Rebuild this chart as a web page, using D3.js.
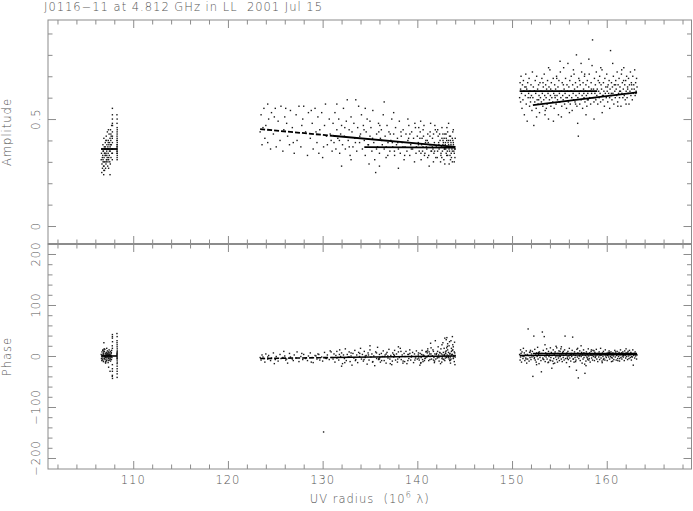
<!DOCTYPE html>
<html><head><meta charset="utf-8">
<script src="https://cdn.jsdelivr.net/npm/d3@7"></script>
<style>
body{margin:0;background:#fff}
svg{display:block}
text{font-family:"DejaVu Sans",sans-serif;font-weight:200;fill:#555;letter-spacing:1px;white-space:pre}
</style>
</head><body>
<svg id="c" width="693" height="511"></svg>
<script>
const title = "J0116−11 at 4.812 GHz in LL  2001 Jul 15";
const xLabel = "UV radius";
const ampLabel = "Amplitude";
const phaseLabel = "Phase";
const xTicks = [110,120,130,140,150,160];
const ampTicks = [0,0.5];
const phaseTicks = [-200,-100,0,100,200];

// visibilities: [uv radius (10^6 lambda), amplitude, phase (deg)]
const visLeft = [
[106.62,.31,3],[106.65,.34,-5],[106.7,.29,8],[106.72,.36,-2],[106.75,.27,1],[106.78,.33,11],[106.8,.38,-8],[106.82,.30,4],[106.85,.35,-11],[106.87,.28,6],
[106.9,.41,0],[106.92,.32,-4],[106.95,.37,9],[106.97,.26,-1],[107.0,.34,13],[107.02,.30,-7],[107.05,.39,2],[107.07,.33,-12],[107.1,.36,5],[107.12,.29,-3],
[107.15,.42,7],[107.17,.31,-9],[107.2,.35,15],[107.22,.38,-6],[107.25,.32,1],[107.27,.44,10],[107.3,.28,-2],[107.32,.37,4],[107.35,.34,-13],[107.37,.40,8],
[107.4,.31,-5],[107.42,.36,3],[107.45,.43,12],[107.47,.33,-8],[107.5,.39,0],[107.52,.30,6],[107.55,.41,-4],[107.57,.35,9],[107.6,.45,-10],[107.62,.38,2],
[107.65,.32,-1],[107.67,.42,5],[107.7,.36,-7],[107.72,.47,11],[107.75,.34,-3],[106.68,.25,-9],[106.88,.24,4],[107.08,.27,-14],[106.93,.30,14],[107.18,.40,-2],
[107.38,.45,6],[107.58,.29,-6],[106.83,.35,2],[107.03,.33,-1],[107.23,.31,3],[107.43,.38,-3],[107.63,.40,1],[106.98,.36,0],[107.13,.34,1],[107.33,.30,-1],
[106.9,.26,26],[107.4,.27,-22],[107.55,.24,-30],
[107.8,.55,42],[107.8,.50,35],[107.81,.47,28],[107.8,.44,-38],[107.79,.41,20],[107.8,.39,-25],[107.81,.36,-44],[107.8,.48,15],[107.8,.34,-17],[107.8,.52,-30],
[107.8,.42,38],[107.79,.31,-40],
[108.28,.52,44],[108.3,.50,-5],[108.29,.48,30],[108.3,.46,-15],[108.31,.45,8],[108.3,.43,-30],[108.29,.42,2],[108.3,.41,22],[108.3,.40,-8],[108.31,.39,14],
[108.3,.38,-2],[108.29,.37,5],[108.3,.37,-20],[108.3,.36,0],[108.31,.36,10],[108.3,.35,-4],[108.29,.35,3],[108.3,.34,-42],[108.3,.34,18],[108.31,.33,-12],
[108.3,.32,38],[108.3,.38,-35],[108.29,.40,26],[108.3,.44,-25],[108.3,.31,6]
];
const visLeft2 = [
[106.74,.32,-6],[106.91,.28,9],[107.06,.37,-3],[107.21,.33,6],[107.36,.39,-9],[107.49,.35,3],[107.64,.43,-2],[106.81,.31,12],[107.11,.40,-11],[107.41,.32,1],
[107.69,.38,7],[106.96,.34,-5],[107.26,.36,4],[107.56,.37,-1],[107.16,.30,2]
];
const visMid = [
[123.4,.44,-3],[123.5,.52,-8],[123.6,.38,2],[123.8,.55,-5],[123.9,.41,-12],[124.0,.47,4],[124.2,.57,-6],[124.2,.39,-2],[124.3,.50,1],[124.5,.36,-9],
[124.6,.53,-4],[124.8,.43,6],[125.0,.55,-7],[125.1,.37,-1],[125.3,.49,-10],[125.5,.40,3],[125.6,.56,-5],[125.8,.35,-3],[126.0,.51,0],[126.1,.55,-8],
[126.3,.42,-14],[126.5,.38,5],[126.6,.54,-2],[126.8,.46,-6],[127.0,.34,2],[127.2,.52,-4],[127.3,.40,8],[127.5,.56,-11],[127.7,.37,-1],[127.9,.50,-7],
[128.0,.56,3],[128.2,.44,-5],[128.4,.33,-9],[128.5,.53,0],[128.7,.41,6],[128.9,.48,-3],[129.0,.36,-13],[129.2,.55,1],[129.4,.39,-6],[129.5,.51,4],
[129.7,.45,-8],[129.9,.53,-2],[130.0,.32,-10],[130.2,.47,7],[130.3,.57,-4],[130.5,.38,2],[130.7,.50,-7],[130.8,.43,10],[131.0,.35,-3],[124.9,.51,-15],
[125.9,.45,9],[126.9,.39,-9],[127.8,.47,5],[128.8,.54,-12],[129.6,.34,3],[130.4,.42,-5],[123.7,.46,-2],[126.2,.48,-6],[129.3,.44,0],[130.9,.40,8],
[130.1,.37,-149],
[131.1,.48,-6],[131.2,.39,4],[131.3,.53,-12],[131.4,.36,1],[131.5,.45,9],[131.6,.41,-3],[131.7,.50,-8],[131.8,.34,12],[131.9,.43,-1],[132.0,.47,6],
[132.1,.38,-15],[132.2,.55,2],[132.3,.42,-5],[132.4,.36,14],[132.5,.49,-9],[132.6,.59,3],[132.7,.40,-2],[132.8,.45,8],[132.9,.33,-11],[133.0,.51,0],
[133.1,.44,-18],[133.2,.37,5],[133.3,.48,-4],[133.4,.41,11],[133.5,.59,-7],[133.6,.35,2],[133.7,.46,-13],[133.8,.56,7],[133.9,.39,-1],[134.0,.43,15],
[134.1,.52,-6],[134.2,.36,3],[134.3,.47,-10],[134.4,.40,9],[134.5,.33,-3],[134.6,.44,1],[134.7,.50,-16],[134.8,.38,6],[134.9,.29,-8],[135.0,.42,12],
[135.1,.46,-2],[135.2,.35,4],[135.3,.54,-11],[135.4,.39,0],[135.5,.31,-19],[135.6,.25,8],[135.7,.43,-5],[135.8,.37,17],[135.9,.48,-7],[136.0,.34,3],
[136.1,.41,-12],[136.2,.45,5],[136.3,.38,-1],[136.4,.52,10],[136.5,.36,-9],[136.6,.42,2],[136.7,.32,-14],[136.8,.47,7],[136.9,.39,-4],[137.0,.44,13],
[137.1,.35,-6],[137.2,.40,1],[137.3,.50,-17],[137.4,.37,6],[137.5,.43,-2],[137.6,.33,11],[137.7,.46,-8],[137.8,.38,4],[137.9,.41,-12],[138.0,.36,8],
[138.1,.49,-3],[138.2,.34,15],[138.3,.42,-7],[138.4,.39,2],[138.5,.45,-10],[138.6,.31,5],[138.7,.37,-1],[138.8,.43,9],[138.9,.35,-15],[139.0,.40,3],
[139.1,.47,-5],[139.2,.33,12],[139.3,.38,-8],[139.4,.44,0],[139.5,.36,7],[139.6,.41,-13],[139.7,.30,4],[139.8,.46,-4],[139.9,.37,10],[140.0,.42,-6],
[131.5,.57,-4],[133.0,.31,6],[134.5,.55,0],[136.0,.28,-6],[137.5,.53,3],[139.0,.50,-9],[132.0,.28,-20],[138.0,.27,18],[135.0,.49,20],[136.5,.58,-1],
[140.1,.39,2],[140.2,.35,-8],[140.3,.44,5],[140.4,.31,-3],[140.5,.41,11],[140.6,.37,-11],[140.7,.47,1],[140.8,.34,-5],[140.9,.40,8],[141.0,.36,-2],
[141.1,.43,14],[141.2,.33,-9],[141.3,.38,4],[141.4,.48,25],[141.5,.35,-6],[141.6,.41,0],[141.7,.30,9],[141.8,.39,-13],[141.9,.45,30],[142.0,.37,3],
[142.1,.32,-4],[142.2,.42,18],[142.3,.36,-10],[142.4,.40,6],[142.5,.34,-1],[142.6,.46,22],[142.7,.38,2],[142.8,.31,-7],[142.9,.43,35],[143.0,.36,5],
[143.1,.40,-3],[143.2,.33,12],[143.3,.38,0],[143.4,.35,28],[143.5,.42,-8],[143.6,.37,15],[143.7,.30,3],[143.8,.39,-5],[143.9,.34,8],[144.0,.41,1],
[142.55,.37,4],[142.65,.35,-2],[142.75,.39,7],[142.85,.36,1],[142.95,.38,-4],[143.05,.34,10],[143.15,.37,2],[143.25,.39,-1],[143.35,.36,20],[143.45,.33,5],
[143.55,.38,-6],[143.65,.36,3],[143.75,.40,12],[143.85,.35,0],[143.95,.37,6],[143.05,.41,32],[143.5,.31,-14],[143.2,.44,24],[142.9,.29,-9],[143.8,.45,18],
[143.6,.32,9],[143.3,.48,-3],[142.7,.43,26],[143.9,.30,-11],[143.4,.42,4],[144.0,.36,-2],[143.7,.35,38],[143.1,.33,16],[142.6,.41,-5],[143.55,.39,30],
[140.15,.46,-4],[140.45,.38,3],[140.75,.33,-9],[141.05,.40,6],[141.35,.44,-1],[141.65,.36,12],[141.95,.32,-6],[142.25,.39,2],[140.35,.49,-14],[141.25,.28,8],
[141.85,.47,4],[142.45,.30,-15],[140.65,.42,0],[141.45,.35,16],[142.15,.45,-2],[140.95,.37,9],[141.75,.34,-3],[142.35,.43,7],[140.55,.35,-7],[141.15,.39,1]
];
const visMid2 = [
[136.23,.40,-9],[136.71,.37,4],[137.14,.43,-15],[137.58,.35,1],[137.93,.39,-6],[138.27,.44,9],[138.66,.33,-11],[139.08,.41,3],[139.37,.36,-2],[139.74,.48,-8],
[140.12,.38,6],[140.38,.34,-13],[140.61,.45,2],[140.86,.39,-4],[141.09,.32,10],[141.33,.42,-7],[141.58,.37,0],[141.82,.35,-10],[142.04,.44,5],[142.28,.38,-3],
[142.49,.33,14],[142.71,.40,-6],[142.88,.36,3],[143.03,.43,-1],[143.17,.35,19],[143.29,.40,7],[143.42,.37,-9],[143.58,.34,2],[143.69,.41,11],[143.81,.38,-4],
[143.93,.36,27],[143.97,.32,-17],[143.12,.46,36],[142.83,.41,15],[142.58,.32,-12],[143.36,.29,-6],[143.74,.44,22],[142.97,.39,8],[143.49,.40,-2],[143.86,.37,1],
[134.37,.45,-7],[134.84,.38,2],[135.27,.41,-12],[135.69,.36,6],[136.04,.47,-3],[133.46,.39,-9],[133.92,.42,5],[132.81,.37,-2],[132.34,.46,-13],[131.77,.40,3],
[138.48,.37,-14],[139.21,.43,5],[139.86,.34,-1],[140.27,.41,-18],[141.44,.38,4],[141.71,.43,-8],[142.14,.35,9],[137.36,.39,-10],[136.88,.33,0],[135.93,.44,-5]
];
const visRight = [
[150.8,.60,3],[150.85,.67,-8],[150.9,.64,12],[150.9,.58,-2],[150.95,.70,5],[151.0,.62,-12],[151.05,.55,8],[151.1,.66,0],[151.15,.59,-5],[151.2,.68,15],
[151.25,.63,-1],[151.3,.52,6],[151.35,.65,-9],[151.4,.61,2],[151.45,.71,-4],[151.5,.57,10],[151.55,.64,-14],[151.6,.49,3],[151.65,.67,-6],[151.7,.60,53],
[151.75,.62,1],[151.8,.69,-10],[151.85,.56,7],[151.9,.63,-3],[151.95,.58,11],[152.0,.66,-7],[152.05,.61,4],[152.1,.54,-2],[152.15,.72,9],[152.2,.60,-40],
[152.25,.65,0],[152.3,.47,39],[152.35,.63,-5],[152.4,.58,13],[152.45,.68,-8],[152.5,.62,2],[152.55,.55,-12],[152.6,.70,6],[152.65,.59,-1],[152.7,.64,17],
[152.75,.57,-6],[152.8,.66,3],[152.85,.61,-15],[152.9,.53,8],[152.95,.67,-3],[153.0,.60,1],[153.05,.63,-9],[153.1,.58,-31],[153.15,.69,5],[153.2,.62,47],
[153.25,.56,-4],[153.3,.65,11],[153.35,.59,-7],[153.4,.71,38],[153.45,.61,0],[153.5,.54,-11],[153.55,.66,6],[153.6,.60,-2],[153.65,.64,14],[153.7,.57,-6],
[153.75,.68,2],[153.8,.62,-13],[153.85,.50,9],[153.9,.65,-1],[153.95,.59,4],[154.0,.73,-8],[154.05,.61,16],[154.1,.56,-3],[154.15,.67,7],[154.2,.60,-24],
[154.25,.63,1],[154.3,.58,-10],[154.35,.69,12],[154.4,.62,-5],[154.45,.55,3],[154.5,.66,-14],[154.55,.60,8],[154.6,.64,-2],[154.65,.57,19],[154.7,.70,-7],
[154.75,.61,0],[154.8,.59,-12],[154.85,.65,5],[154.9,.52,-4],[154.95,.68,10],[155.0,.62,-9],[155.05,.58,2],[155.1,.72,-1],[155.15,.60,14],[155.2,.63,-6],
[155.25,.56,4],[155.3,.67,-11],[155.35,.61,7],[155.4,.59,-3],[155.45,.74,1],[155.5,.64,-8],[155.55,.57,12],[155.6,.62,39],[155.65,.69,-5],[155.7,.60,3],
[155.75,.55,-13],[155.8,.66,6],[155.85,.63,-2],[155.9,.76,9],[155.95,.58,-7],[156.0,.65,0],[156.05,.61,15],[156.1,.68,-4],[156.15,.57,2],[156.2,.63,-10],
[156.25,.70,5],[156.3,.60,-1],[156.35,.54,11],[156.4,.66,37],[156.45,.62,-6],[156.5,.59,3],[156.55,.71,-12],[156.6,.64,8],[156.65,.58,-3],[156.7,.67,1],
[156.75,.61,-8],[156.8,.80,-28],[156.85,.56,13],[156.9,.65,-2],[156.95,.60,6],[157.0,.42,-43],[157.05,.69,-5],[157.1,.62,0],[157.15,.57,10],[157.2,.66,-9],
[157.25,.63,4],[157.3,.59,-1],[157.35,.72,7],[157.4,.61,-14],[157.45,.55,2],[157.5,.67,-6],[157.55,.64,12],[157.6,.60,-3],[157.65,.70,5],[157.7,.58,-34],
[157.75,.63,1],[157.8,.66,-10],[157.85,.61,8],[157.9,.56,-2],[157.95,.68,3],[158.0,.62,-7],[158.05,.59,14],[158.1,.65,0],[158.15,.71,-5],[158.2,.60,6],
[158.25,.63,-12],[158.3,.57,2],[158.35,.67,9],[158.4,.62,-4],[158.45,.75,1],[158.5,.87,-8],[158.55,.60,11],[158.6,.64,-1],[158.65,.58,4],[158.7,.69,-9],
[158.75,.62,7],[158.8,.66,-3],[158.85,.59,0],[158.9,.72,13],[158.95,.61,-6],[159.0,.64,3],[159.05,.57,-11],[159.1,.68,5],[159.15,.63,-2],[159.2,.60,8],
[159.25,.70,-7],[159.3,.62,1],[159.35,.58,15],[159.4,.66,-4],[159.45,.64,2],[159.5,.73,-10],[159.55,.61,6],[159.6,.59,-1],[159.65,.67,9],[159.7,.63,-5],
[159.75,.56,3],[159.8,.69,-8],[159.85,.62,12],[159.9,.65,0],[159.95,.60,-3],[160.0,.71,5],[160.05,.63,-9],[160.1,.58,1],[160.15,.66,7],[160.2,.62,-2],
[160.25,.68,10],[160.3,.60,-6],[160.35,.64,3],[160.4,.82,-1],[160.45,.61,8],[160.5,.67,-11],[160.55,.59,2],[160.6,.65,-4],[160.65,.62,6],[160.7,.70,0],
[160.75,.57,-7],[160.8,.66,4],[160.85,.63,11],[160.9,.60,-2],[160.95,.68,5],[161.0,.64,-8],[161.05,.61,1],[161.1,.72,9],[161.15,.58,-5],[161.2,.66,3],
[161.25,.62,-1],[161.3,.69,7],[161.35,.60,-10],[161.4,.65,2],[161.45,.63,12],[161.5,.56,-3],[161.55,.71,5],[161.6,.62,-6],[161.65,.67,0],[161.7,.60,8],
[161.75,.64,-2],[161.8,.74,4],[161.85,.61,-9],[161.9,.66,10],[161.95,.59,1],[162.0,.68,-4],[162.05,.63,6],[162.1,.70,-1],[162.15,.60,3],[162.2,.65,-7],
[162.25,.62,9],[162.3,.69,0],[162.35,.57,-5],[162.4,.66,11],[162.45,.63,2],[162.5,.72,-3],[162.55,.61,7],[162.6,.67,-8],[162.65,.64,4],[162.7,.59,-2],
[162.75,.70,12],[162.8,.62,-18],[162.85,.66,1],[162.9,.64,5],[162.95,.73,-4],[163.0,.61,8],[163.05,.67,0],[163.1,.63,3],[163.15,.69,-6],[163.2,.65,2]
];
const visRight2 = [
[152.37,.63,-3],[152.81,.59,7],[153.27,.67,-6],[153.62,.55,2],[154.08,.64,-9],[154.53,.61,5],[154.97,.58,-1],[155.42,.66,9],[155.84,.60,-5],[156.27,.63,3],
[156.71,.57,-11],[157.13,.68,1],[157.58,.62,6],[157.96,.59,-4],[158.38,.64,12],[158.79,.60,-2],[159.23,.67,4],[159.64,.61,-7],[160.08,.65,2],[160.49,.62,-3],
[160.93,.66,8],[161.36,.63,-5],[161.78,.68,1],[162.21,.64,6],[162.63,.66,-1],[163.08,.62,4],[151.48,.65,-6],[151.92,.60,8],[152.59,.51,-17],[153.48,.52,22],
[154.37,.49,-15],[155.21,.51,18],[156.06,.53,-21],[156.93,.48,15],[157.81,.52,-19],[158.66,.50,10],[159.52,.53,-13],[160.31,.55,7],[161.17,.56,-9],[162.04,.57,14],
[153.86,.74,-12],[155.07,.77,9],[156.48,.73,-6],[157.29,.76,20],[158.11,.78,-8],[159.37,.74,3],[160.63,.76,-10],[161.58,.73,6],[154.72,.69,16],[157.67,.71,-16]
];
// model curves: segments of [uv, value]; sparse (dotted-looking) parts flagged with 1
const modelAmp = [
 {dash:0, pts:[[106.6,.36],[108.3,.36]]},
 {dash:1, pts:[[123.4,.453],[131.0,.422]]},
 {dash:0, pts:[[131.0,.422],[144.0,.370]]},
 {dash:0, pts:[[134.4,.369],[144.0,.366]]},
 {dash:0, pts:[[150.8,.631],[159.0,.631]]},
 {dash:0, pts:[[152.2,.565],[163.2,.625]]}
];
const modelPhase = [
 {dash:0, pts:[[106.6,0],[108.3,0]]},
 {dash:1, pts:[[123.4,-5],[131.0,-3]]},
 {dash:0, pts:[[131.0,-3],[144.0,0]]},
 {dash:0, pts:[[150.8,1],[163.2,3]]},
 {dash:0, pts:[[152.2,5],[163.2,5]]}
];

const L=48, R=691.5, T1=20, B1=244, T2=244, B2=469;
const x = d3.scaleLinear().domain([101.0,168.95]).range([L,R]);
const yA = d3.scaleLinear().domain([-0.084,0.963]).range([B1,T1]);
const yP = d3.scaleLinear().domain([-221.6,219.6]).range([B2,T2]);

const svg = d3.select("#c");
const frameCol = "#8c8c8c";

const xMinor = d3.range(102,169,2).filter(v=>v%10!==0);
const xMajor = d3.range(110,161,10);
const aMinor = [0.1,0.2,0.3,0.4,0.6,0.7,0.8,0.9];
const pMinor = d3.range(-180,201,20).filter(v=>v%100!==0);

function styleAxis(g){
  g.select(".domain").remove();
  g.selectAll("line").attr("stroke",frameCol).attr("stroke-width",1);
  g.selectAll("text").remove();
}
function panel(y, top, bottom, minorY, majorY){
  const add = (axis, tr) => svg.append("g").attr("transform",tr).call(axis).call(styleAxis);
  add(d3.axisBottom(x).tickValues(xMinor).tickSize(-4.5), `translate(0,${bottom})`);
  add(d3.axisBottom(x).tickValues(xMajor).tickSize(-8), `translate(0,${bottom})`);
  add(d3.axisTop(x).tickValues(xMinor).tickSize(-4.5), `translate(0,${top})`);
  add(d3.axisTop(x).tickValues(xMajor).tickSize(-8), `translate(0,${top})`);
  add(d3.axisLeft(y).tickValues(minorY).tickSize(-4.5), `translate(${L},0)`);
  add(d3.axisLeft(y).tickValues(majorY).tickSize(-8), `translate(${L},0)`);
  add(d3.axisRight(y).tickValues(minorY).tickSize(-4.5), `translate(${R},0)`);
  add(d3.axisRight(y).tickValues(majorY).tickSize(-8), `translate(${R},0)`);
  svg.append("rect").attr("x",L).attr("y",top).attr("width",R-L).attr("height",bottom-top)
    .attr("fill","none").attr("stroke",frameCol).attr("stroke-width",1);
}
panel(yA, T1, B1, aMinor, ampTicks);
panel(yP, T2, B2, pMinor, phaseTicks);
svg.append("line").attr("x1",L).attr("x2",R).attr("y1",B1).attr("y2",B1).attr("stroke",frameCol).attr("stroke-width",2);

const vis = visLeft.concat(visLeft2, visMid, visMid2, visRight, visRight2);
function dots(yScale, idx){
  svg.append("g").selectAll("rect").data(vis).join("rect")
    .attr("x",d=>x(d[0])-0.7).attr("y",d=>yScale(d[idx])-0.7)
    .attr("width",1.4).attr("height",1.4).attr("fill","#1a1a1a");
}
dots(yA,1); dots(yP,2);

const lineA = d3.line().x(d=>x(d[0])).y(d=>yA(d[1]));
const lineP = d3.line().x(d=>x(d[0])).y(d=>yP(d[1]));
svg.append("g").selectAll("path").data(modelAmp).join("path").attr("d",d=>lineA(d.pts))
  .attr("fill","none").attr("stroke","#000").attr("stroke-width",1.8)
  .attr("stroke-dasharray",d=>d.dash?"5,2":null);
svg.append("g").selectAll("path").data(modelPhase).join("path").attr("d",d=>lineP(d.pts))
  .attr("fill","none").attr("stroke","#000").attr("stroke-width",1.6)
  .attr("stroke-dasharray",d=>d.dash?"5,2":null);

// text
const fs = 11.5;
svg.append("text").attr("x",44).attr("y",11).attr("font-size",fs).text(title);
svg.append("g").selectAll("text").data(xTicks).join("text")
  .attr("x",d=>x(d)).attr("y",484).attr("text-anchor","middle").attr("font-size",fs).text(d=>d);
const yl = (scale, vals, fmt) => svg.append("g").selectAll("text").data(vals).join("text")
  .attr("transform",d=>`translate(40,${scale(d)}) rotate(-90)`).attr("text-anchor","middle")
  .attr("font-size",fs).text(fmt);
yl(yA, ampTicks, d=>d===0?"0":String(d));
yl(yP, phaseTicks, d=>d<0?"−"+(-d):String(d));
svg.append("text").attr("transform",`translate(11,${(T1+B1)/2}) rotate(-90)`).attr("text-anchor","middle").attr("font-size",fs).text(ampLabel);
svg.append("text").attr("transform",`translate(11,${(T2+B2)/2}) rotate(-90)`).attr("text-anchor","middle").attr("font-size",fs).text(phaseLabel);
const xl = svg.append("text").attr("x",(L+R)/2).attr("y",503).attr("text-anchor","middle").attr("font-size",fs);
xl.append("tspan").text(xLabel+"  (10");
xl.append("tspan").attr("dy",-5).attr("font-size",8).text("6");
xl.append("tspan").attr("dy",5).text(" λ)");
</script>
</body></html>
